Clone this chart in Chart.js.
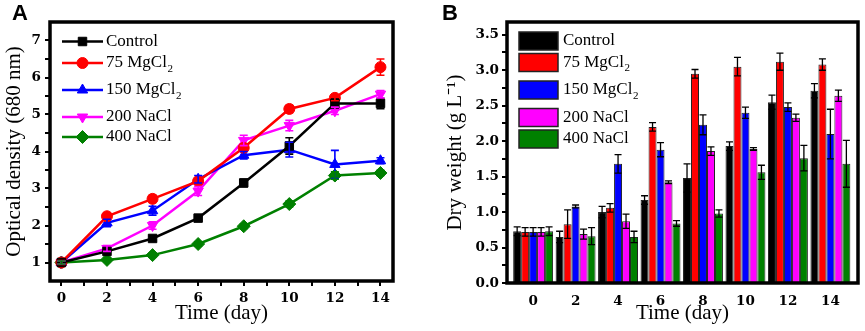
<!DOCTYPE html>
<html>
<head>
<meta charset="utf-8">
<script src="https://cdn.jsdelivr.net/npm/chart.js@4.4.1/dist/chart.umd.min.js"></script>
<style>
  html, body { margin: 0; padding: 0; background: #fff; }
  #wrap { position: relative; width: 865px; height: 331px; }
  #boxA { position: absolute; left: 0; top: 0; width: 430px; height: 331px; }
  #boxB { position: absolute; left: 430px; top: 0; width: 435px; height: 331px; }
</style>
</head>
<body>
<div id="wrap">
  <div id="boxA"><canvas id="chartA"></canvas></div>
  <div id="boxB"><canvas id="chartB"></canvas></div>
</div>
<script>
// sampling days and series
const days = [0, 2, 4, 6, 8, 10, 12, 14];
const seriesNames = ['Control', '75 MgCl₂', '150 MgCl₂', '200 NaCl', '400 NaCl'];
const seriesColors = ['#000000', '#ff0000', '#0000ff', '#ff00ff', '#008000'];

// panel A: optical density (680 nm)
const odControl = [1.0, 1.30, 1.65, 2.20, 3.15, 4.15, 5.30, 5.30];
const od75Mg    = [1.0, 2.25, 2.72, 3.20, 4.10, 5.15, 5.45, 6.28];
const od150Mg   = [1.0, 2.07, 2.40, 3.25, 3.90, 4.05, 3.65, 3.75];
const od200Na   = [1.0, 1.38, 2.00, 2.93, 4.30, 4.70, 5.10, 5.55];
const od400Na   = [1.0, 1.07, 1.20, 1.50, 1.98, 2.58, 3.35, 3.42];
const odControlErr = [0.05, 0.05, 0.06, 0.07, 0.10, 0.22, 0.12, 0.14];
const od75MgErr    = [0.05, 0.07, 0.10, 0.07, 0.10, 0.10, 0.08, 0.22];
const od150MgErr   = [0.04, 0.10, 0.12, 0.10, 0.10, 0.20, 0.38, 0.08];
const od200NaErr   = [0.04, 0.08, 0.10, 0.12, 0.14, 0.14, 0.10, 0.10];
const od400NaErr   = [0.04, 0.05, 0.05, 0.06, 0.06, 0.08, 0.10, 0.07];

// panel B: dry weight (g/L)
const dwControl = [0.73, 0.65, 1.00, 1.17, 1.48, 1.93, 2.55, 2.71];
const dw75Mg    = [0.72, 0.83, 1.06, 2.20, 2.95, 3.05, 3.12, 3.08];
const dw150Mg   = [0.72, 1.08, 1.68, 1.88, 2.23, 2.40, 2.48, 2.10];
const dw200Na   = [0.72, 0.69, 0.87, 1.42, 1.86, 1.89, 2.33, 2.64];
const dw400Na   = [0.73, 0.66, 0.65, 0.84, 0.98, 1.56, 1.76, 1.68];
const dwControlErr = [0.06, 0.08, 0.08, 0.06, 0.20, 0.06, 0.10, 0.10];
const dw75MgErr    = [0.06, 0.20, 0.06, 0.06, 0.06, 0.13, 0.12, 0.08];
const dw150MgErr   = [0.06, 0.02, 0.13, 0.10, 0.14, 0.08, 0.06, 0.35];
const dw200NaErr   = [0.06, 0.07, 0.10, 0.02, 0.06, 0.02, 0.05, 0.08];
const dw400NaErr   = [0.06, 0.12, 0.08, 0.04, 0.05, 0.10, 0.18, 0.33];

// tick positions
const dayTicksA = [0, 1, 2, 3, 4, 5, 6, 7, 8, 9, 10, 11, 12, 13, 14];
const odTicks = [1, 1.5, 2, 2.5, 3, 3.5, 4, 4.5, 5, 5.5, 6, 6.5, 7];
const dwTicks = [0, 0.25, 0.5, 0.75, 1, 1.25, 1.5, 1.75, 2, 2.25, 2.5, 2.75, 3, 3.25, 3.5];

const odValues = [odControl, od75Mg, od150Mg, od200Na, od400Na];
const odErrors = [odControlErr, od75MgErr, od150MgErr, od200NaErr, od400NaErr];
const dwValues = [dwControl, dw75Mg, dw150Mg, dw200Na, dw400Na];
const dwErrors = [dwControlErr, dw75MgErr, dw150MgErr, dw200NaErr, dw400NaErr];
const pointStyles = ['rect', 'circle', 'triangle', 'triangle', 'rectRot'];
const pointRotations = [0, 0, 0, 180, 0];
const pointRadii = [6, 5.5, 6, 6, 6.5];

const serif = '"Liberation Serif", "Times New Roman", serif';
const tickFont = { family: '"DejaVu Serif", serif', size: 13.5, weight: 'bold' };
const titleFont = { family: serif, size: 21 };

function drawLabel(ctx, text, x, y) {
  // draws "MgCl₂" with a real lowered subscript
  const parts = text.split('₂');
  ctx.font = '17px ' + serif;
  ctx.textBaseline = 'middle';
  ctx.textAlign = 'left';
  ctx.fillStyle = '#000';
  ctx.fillText(parts[0], x, y);
  if (parts.length > 1) {
    const w = ctx.measureText(parts[0]).width;
    ctx.font = '11px ' + serif;
    ctx.fillText('2', x + w + 0.5, y + 6);
  }
}

const panelPlugin = {
  id: 'panel',
  afterDatasetsDraw(chart, args, opts) {
    const ctx = chart.ctx, ys = chart.scales.y;
    ctx.save();
    chart.data.datasets.forEach((ds, i) => {
      const meta = chart.getDatasetMeta(i);
      ctx.strokeStyle = opts.errColor || ds.borderColor;
      ctx.lineWidth = opts.errWidth;
      meta.data.forEach((el, j) => {
        const v = ds.data[j].y, e = ds.err[j];
        const top = ys.getPixelForValue(v + e), bot = ys.getPixelForValue(v - e);
        const c = opts.cap;
        ctx.beginPath();
        ctx.moveTo(el.x, top); ctx.lineTo(el.x, bot);
        ctx.moveTo(el.x - c, top); ctx.lineTo(el.x + c, top);
        ctx.moveTo(el.x - c, bot); ctx.lineTo(el.x + c, bot);
        ctx.stroke();
      });
    });
    ctx.restore();
  },
  afterDraw(chart, args, opts) {
    const ctx = chart.ctx, a = chart.chartArea;
    ctx.save();
    ctx.strokeStyle = '#000';
    ctx.lineWidth = 3.5;
    ctx.strokeRect(a.left, a.top, a.right - a.left, a.bottom - a.top);

    ctx.fillStyle = '#000';
    ctx.font = 'bold 22px "Liberation Sans", Arial, sans-serif';
    ctx.textBaseline = 'alphabetic';
    ctx.fillText(opts.letter, 12, 20);

    const lg = opts.legend;
    chart.data.datasets.forEach((ds, i) => {
      const y = a.top + lg.rows[i];
      if (lg.kind === 'line') {
        ctx.strokeStyle = ds.borderColor;
        ctx.lineWidth = 2.5;
        ctx.beginPath(); ctx.moveTo(lg.x0, y); ctx.lineTo(lg.x1, y); ctx.stroke();
        ctx.fillStyle = ds.backgroundColor;
        ctx.lineWidth = 1;
        Chart.helpers.drawPoint(ctx, {
          pointStyle: ds.pointStyle, rotation: ds.pointRotation || 0,
          radius: ds.pointRadius, borderWidth: 1
        }, (lg.x0 + lg.x1) / 2, y);
      } else {
        ctx.fillStyle = ds.backgroundColor;
        ctx.fillRect(lg.x0, y - 9, lg.x1 - lg.x0, 18);
        ctx.strokeStyle = '#222';
        ctx.lineWidth = 1.5;
        ctx.strokeRect(lg.x0, y - 9, lg.x1 - lg.x0, 18);
      }
      drawLabel(ctx, ds.label, lg.tx, y);
    });
    ctx.restore();
  }
};

const chartA = document.getElementById('chartA');

new Chart(chartA, {
  type: 'line',
  data: {
    datasets: seriesNames.map((name, i) => ({
      label: name,
      data: days.map((d, j) => ({ x: d, y: odValues[i][j] })),
      err: odErrors[i],
      borderColor: seriesColors[i],
      backgroundColor: seriesColors[i],
      pointStyle: pointStyles[i],
      pointRotation: pointRotations[i],
      pointRadius: pointRadii[i],
      pointBorderWidth: 1,
      borderWidth: 2.5
    }))
  },
  options: {
    responsive: true,
    maintainAspectRatio: false,
    animation: false,
    layout: { padding: { left: 0, top: 22, right: 37, bottom: 0 } },
    plugins: {
      legend: { display: false },
      tooltip: { enabled: false },
      panel: {
        letter: 'A', errWidth: 1.6, cap: 4,
        legend: { kind: 'line', x0: 62, x1: 103, tx: 106, rows: [19.5, 41, 68, 95, 115] }
      }
    },
    scales: {
      x: {
        type: 'linear', min: -0.5, max: 14.55,
        afterBuildTicks: s => { s.ticks = dayTicksA.map(v => ({ value: v })); },
        afterFit: s => { s.height = 50; },
        ticks: {
          callback: v => (v % 2 === 0 ? String(v) : ''),
          font: tickFont, color: '#000', padding: 4, maxRotation: 0, autoSkip: false
        },
        grid: { drawOnChartArea: false, tickLength: 5, color: '#000', lineWidth: 2 },
        border: { display: false },
        title: { display: true, text: 'Time (day)', font: titleFont, color: '#000', padding: { top: 0, bottom: 5 } }
      },
      y: {
        min: 0.5, max: 7.5,
        afterBuildTicks: s => { s.ticks = odTicks.map(v => ({ value: v })); },
        afterFit: s => { s.width = 50; },
        ticks: {
          callback: v => (Number.isInteger(v) ? String(v) : ''),
          font: tickFont, color: '#000', padding: 4, autoSkip: false
        },
        grid: { drawOnChartArea: false, tickLength: 5, color: '#000', lineWidth: 2 },
        border: { display: false },
        title: { display: true, text: 'Optical density (680 nm)', font: titleFont, color: '#000', padding: { top: 2, bottom: 0 } }
      }
    }
  },
  plugins: [panelPlugin]
});

const chartB = document.getElementById('chartB');

new Chart(chartB, {
  type: 'bar',
  data: {
    datasets: seriesNames.map((name, i) => ({
      label: name,
      data: days.map((d, j) => ({ x: d, y: dwValues[i][j] })),
      err: dwErrors[i],
      backgroundColor: seriesColors[i],
      borderColor: '#222',
      borderWidth: 1,
      barPercentage: 1.0,
      categoryPercentage: 0.94
    }))
  },
  options: {
    responsive: true,
    maintainAspectRatio: false,
    animation: false,
    layout: { padding: { left: 0, top: 22, right: 7, bottom: 0 } },
    plugins: {
      legend: { display: false },
      tooltip: { enabled: false },
      panel: {
        letter: 'B', errColor: '#000', errWidth: 1.3, cap: 3.5,
        legend: { kind: 'box', x0: 89, x1: 128, tx: 133, rows: [19, 40.5, 68, 95.5, 117] }
      }
    },
    scales: {
      x: {
        type: 'linear', min: -1.23, max: 15.3, offset: false,
        afterBuildTicks: s => { s.ticks = days.map(v => ({ value: v })); },
        afterFit: s => { s.height = 48; },
        ticks: { font: tickFont, color: '#000', padding: 10, maxRotation: 0, autoSkip: false },
        grid: { display: false, offset: false, drawTicks: false },
        border: { display: false },
        title: { display: true, text: 'Time (day)', font: titleFont, color: '#000', padding: { top: 0, bottom: 5 } }
      },
      y: {
        min: 0, max: 3.68,
        afterBuildTicks: s => { s.ticks = dwTicks.map(v => ({ value: v })); },
        afterFit: s => { s.width = 77; },
        ticks: {
          callback: v => (Math.abs(v * 2 - Math.round(v * 2)) < 1e-6 ? v.toFixed(1) : ''),
          font: tickFont, color: '#000', padding: 3, autoSkip: false
        },
        grid: { drawOnChartArea: false, tickLength: 5, color: '#000', lineWidth: 2 },
        border: { display: false },
        title: { display: true, text: 'Dry weight (g L⁻¹)', font: titleFont, color: '#000', padding: { top: 13, bottom: 0 } }
      }
    }
  },
  plugins: [panelPlugin]
});
</script>
</body>
</html>
